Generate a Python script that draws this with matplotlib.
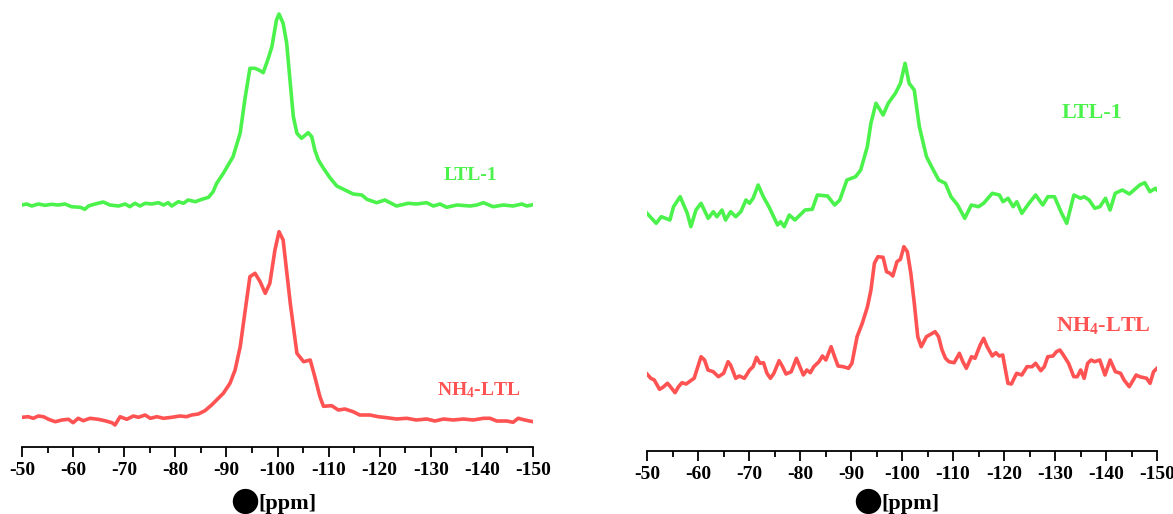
import matplotlib
matplotlib.use("Agg")
import matplotlib.pyplot as plt
from matplotlib.ticker import MultipleLocator

plt.rcParams["axes.unicode_minus"] = False
plt.rcParams["font.family"] = ["Liberation Serif", "DejaVu Serif"]
plt.rcParams["font.weight"] = "bold"
plt.rcParams["mathtext.fontset"] = "custom"
plt.rcParams["mathtext.rm"] = "Liberation Serif:bold"
plt.rcParams["mathtext.it"] = "Liberation Serif:bold"
plt.rcParams["mathtext.bf"] = "Liberation Serif:bold"

GREEN = "#4cf24c"
RED = "#ff5252"

# left panel, LTL-1 (ppm, intensity a.u.)
ltl1_left_ppm = [-50.0, -50.9, -51.9, -53.2, -54.5, -55.8, -57.1, -58.4, -59.7, -61.4,
                 -62.3, -63.0, -64.3, -65.9, -67.2, -68.9, -70.2, -71.1, -72.1, -73.1,
                 -74.1, -75.4, -76.7, -77.7, -78.6, -79.3, -80.6, -81.6, -82.5, -83.9,
                 -85.2, -86.5, -87.4, -88.1, -89.4, -91.3, -92.7, -93.6, -94.6, -95.6,
                 -96.6, -97.2, -98.2, -98.9, -99.8, -100.3, -101.1, -101.8, -102.5, -103.1,
                 -103.8, -104.7, -106.0, -106.7, -107.3, -108.0, -109.0, -110.3, -111.6, -113.2,
                 -114.8, -116.5, -117.5, -119.4, -121.0, -123.3, -125.6, -127.2, -129.2, -130.5,
                 -131.8, -133.1, -135.1, -137.7, -139.0, -140.3, -142.2, -144.2, -146.1, -147.8,
                 -148.8, -150.0]
ltl1_left = [242, 243, 241, 243, 241.7, 242.7, 242, 243, 240.3, 239.7,
             237.7, 241, 243, 245, 242, 241, 243, 240.3, 243.7, 241,
             243.7, 243, 244.3, 242, 244.3, 241, 245.3, 243.7, 247, 245.3,
             247.7, 249.7, 255.3, 263.7, 273.7, 290.3, 314, 347, 378.7, 378.7,
             376.3, 374.3, 388.7, 400.3, 427, 433, 423.7, 403.7, 363.7, 330.3,
             313.7, 308.7, 314.3, 310.3, 297, 287, 278.7, 269, 261, 257,
             253, 252, 247.7, 244.3, 247, 241, 243.7, 243, 244.3, 241,
             243, 239.7, 242, 241, 242, 244.3, 240.3, 242, 241, 243,
             241, 242.3]

# left panel, NH4-LTL
nh4_left_ppm = [-50.0, -51.2, -52.2, -53.2, -54.2, -55.2, -56.5, -57.8, -59.1, -60.0,
                -61.0, -62.0, -63.3, -64.9, -66.2, -67.6, -68.2, -69.2, -70.5, -71.8,
                -72.8, -74.1, -75.1, -76.4, -77.7, -79.3, -80.9, -82.2, -83.2, -84.5,
                -85.8, -87.1, -89.4, -90.7, -91.7, -92.7, -93.6, -94.6, -95.6, -96.6,
                -97.6, -98.5, -99.5, -100.3, -101.1, -102.5, -103.8, -105.1, -106.4, -107.3,
                -108.3, -109.0, -110.6, -111.9, -113.2, -114.8, -116.1, -118.1, -119.7, -121.4,
                -123.3, -125.3, -127.2, -129.2, -130.8, -132.5, -134.4, -136.4, -138.3, -140.3,
                -141.6, -142.9, -144.9, -146.1, -147.1, -148.4, -150.0]
nh4_left = [29.7, 30.3, 28.7, 31, 30.3, 27.7, 25.3, 27, 27.7, 24.3,
            28.7, 26.3, 28.7, 27.7, 26.3, 24.3, 22, 30.3, 27.7, 31,
            29.7, 32, 28.7, 30.3, 28.7, 29.7, 31, 30.3, 32, 33,
            36.3, 42, 53.7, 63.7, 77, 100.3, 133.7, 170.3, 173.7, 165.3,
            153.7, 163.7, 197, 215.3, 207, 143.7, 93.7, 85.3, 87, 70.3,
            50.3, 40.7, 41.3, 37, 38, 35.3, 32, 32, 30.3, 29.3,
            28, 28.7, 27, 28, 26, 28, 27, 28, 27, 28.7,
            28.7, 26, 26, 24.7, 28.7, 27, 25.3]

# right panel, LTL-1
ltl1_right_ppm = [-50.0, -51.8, -52.8, -54.5, -55.2, -56.5, -57.9, -58.6, -59.6, -60.6,
                  -62.0, -63.0, -63.7, -64.7, -65.4, -66.4, -67.4, -68.4, -69.4, -70.1,
                  -70.8, -71.8, -72.8, -73.9, -75.6, -76.2, -76.9, -77.9, -79.0, -80.0,
                  -81.0, -82.4, -83.4, -85.4, -86.8, -87.8, -89.2, -90.9, -91.9, -93.2,
                  -93.9, -94.9, -96.3, -97.3, -98.7, -99.7, -100.6, -101.4, -102.4, -103.4,
                  -104.8, -105.8, -107.2, -108.5, -109.6, -110.9, -112.3, -113.6, -115.0, -116.0,
                  -117.7, -119.1, -119.8, -120.8, -121.8, -122.5, -123.5, -124.9, -126.2, -127.6,
                  -128.6, -129.9, -131.3, -132.3, -133.7, -135.0, -135.7, -136.7, -137.8, -138.8,
                  -139.9, -140.8, -141.8, -143.2, -144.6, -146.6, -147.6, -148.6, -149.7, -150.0]
ltl1_right = [237.7, 227.7, 234.3, 231, 244.3, 254.3, 237.7, 224.3, 241, 247.7,
              232.7, 239.3, 234.3, 241, 231, 239.3, 234.3, 239.3, 251, 247.7,
              252.7, 266, 254.3, 244.3, 226, 229.3, 224.3, 236, 231, 236,
              241, 241.7, 256, 255, 246, 251, 271, 274.3, 281, 304.3,
              327.7, 347.7, 336, 347.7, 357.7, 367.7, 387.7, 367.7, 361, 324.3,
              294.3, 284.3, 271, 267.7, 254.3, 246, 232.7, 246, 244.3, 247.7,
              257.7, 256, 249.3, 252.7, 244.3, 249.3, 237.7, 247.7, 256, 246,
              254.3, 254.3, 237.7, 227.7, 256, 252.7, 254.3, 251, 242.7, 244.3,
              252.7, 241, 257.7, 261, 257, 266, 268.3, 259.3, 262.7, 261]

# right panel, NH4-LTL
nh4_right_ppm = [-50.0, -50.75, -51.43, -52.45, -53.13, -54.01, -54.48, -55.5, -56.18, -56.86,
                 -57.68, -58.56, -59.24, -60.6, -61.28, -61.96, -62.98, -64.0, -65.02, -65.9,
                 -66.38, -67.4, -68.08, -69.1, -70.12, -70.8, -71.48, -72.16, -72.84, -73.52,
                 -74.2, -74.88, -75.9, -76.58, -77.26, -78.28, -79.3, -79.98, -80.66, -81.34,
                 -82.02, -82.7, -83.72, -84.4, -85.08, -86.1, -86.78, -87.46, -88.48, -89.5,
                 -90.18, -91.19, -92.21, -93.23, -93.91, -94.59, -95.27, -96.29, -96.97, -97.65,
                 -98.2, -99.01, -99.69, -100.37, -101.05, -101.73, -102.41, -103.09, -103.77, -104.79,
                 -106.49, -107.17, -107.85, -108.53, -109.21, -110.23, -111.25, -111.93, -112.61, -113.63,
                 -114.31, -115.33, -116.01, -116.69, -117.71, -118.39, -119.07, -119.75, -120.77, -121.45,
                 -122.47, -123.49, -124.51, -125.52, -126.2, -127.22, -127.9, -128.58, -129.6, -130.28,
                 -130.96, -131.64, -132.66, -133.68, -134.36, -135.04, -135.72, -136.4, -137.08, -137.76,
                 -138.78, -139.8, -140.82, -141.84, -142.86, -143.54, -144.56, -145.92, -146.6, -147.96,
                 -148.64, -149.32, -150.0]
nh4_right = [77, 72.7, 71, 61.7, 63.7, 67.7, 65, 58.3, 64.3, 68.3,
             67, 70.3, 72.7, 94.3, 91, 81, 79.3, 74.3, 77.7, 89.3,
             86, 72.7, 75, 72.7, 81, 84.3, 93.7, 87.7, 88.3, 77.7,
             72.7, 77.7, 90.3, 84.3, 77, 79.3, 92.7, 84.3, 76, 81,
             78.3, 84.3, 89.3, 95, 91, 104.3, 94.3, 85, 84.3, 82.7,
             87.7, 114.3, 127.7, 144.3, 161, 187.7, 194.3, 193.7, 179.3, 177.7,
             175, 189.3, 191.7, 204.3, 199.3, 177.7, 147.7, 114.3, 104.3, 114.3,
             119.3, 114.3, 101, 92.7, 89.3, 88.3, 97.7, 89.3, 82.7, 94.3,
             92.7, 106, 112.7, 104.3, 95, 98.3, 95, 96, 67.7, 67,
             77.7, 76, 84.3, 84.3, 87.7, 80.3, 84.3, 94.3, 95, 99.3,
             101, 96, 87.7, 74.3, 74.3, 81, 72.7, 87.7, 91, 89.3,
             91, 76, 91, 79.3, 77.7, 71, 64.3, 76, 74.3, 72.7,
             67.7, 79.3, 82.7]

ticks = list(range(-50, -151, -10))
tick_labels = [str(t) for t in ticks]

fig = plt.figure(figsize=(11.73, 5.14), dpi=100)
ax1 = fig.add_axes([22 / 1173, 1 - 447 / 514, 511 / 1173, 447 / 514])
ax2 = fig.add_axes([647 / 1173, 1 - 451 / 514, 510 / 1173, 451 / 514])

ax1.plot(ltl1_left_ppm, ltl1_left, color=GREEN, lw=2.6, solid_joinstyle="round")
ax1.plot(nh4_left_ppm, nh4_left, color=RED, lw=2.6, solid_joinstyle="round")
ax2.plot(ltl1_right_ppm, ltl1_right, color=GREEN, lw=2.6, solid_joinstyle="round")
ax2.plot(nh4_right_ppm, nh4_right, color=RED, lw=2.6, solid_joinstyle="round")

ax1.text(-137.7, 271, "LTL-1", color=GREEN, fontsize=14, ha="center", va="center")
ax1.text(-139.4, 57, "NH$_4$-LTL", color=RED, fontsize=14, ha="center", va="center")
ax2.text(-137.3, 338, "LTL-1", color=GREEN, fontsize=16, ha="center", va="center")
ax2.text(-139.4, 125, "NH$_4$-LTL", color=RED, fontsize=16, ha="center", va="center")

for ax, top in ((ax1, 447), (ax2, 451)):
    ax.set_xlim(-50, -150)
    ax.set_ylim(0, top)
    for s in ("top", "right", "left"):
        ax.spines[s].set_visible(False)
    ax.spines["bottom"].set_linewidth(1.3)
    ax.set_yticks([])
    ax.set_xticks(ticks)
    ax.set_xticklabels(tick_labels, fontsize=14, fontweight="bold")
    ax.xaxis.set_minor_locator(MultipleLocator(5))
    ax.tick_params(axis="x", which="major", length=7, width=1.3, pad=4)
    ax.tick_params(axis="x", which="minor", length=4, width=1.3)
    ax.patch.set_alpha(0)

# x axis labels (the symbol before [ppm] renders as a black blob in the original)
for bx, tx in ((245, 258), (868, 881)):
    fig.text(bx / 1173, 1 - 500 / 514, "\u25cf", fontsize=24, color="black",
             ha="center", va="center", family="DejaVu Sans")
    fig.text(tx / 1173, 1 - 509 / 514, "[ppm]", fontsize=16, fontweight="bold",
             ha="left", va="baseline")

fig.savefig("out.png", dpi=100)
